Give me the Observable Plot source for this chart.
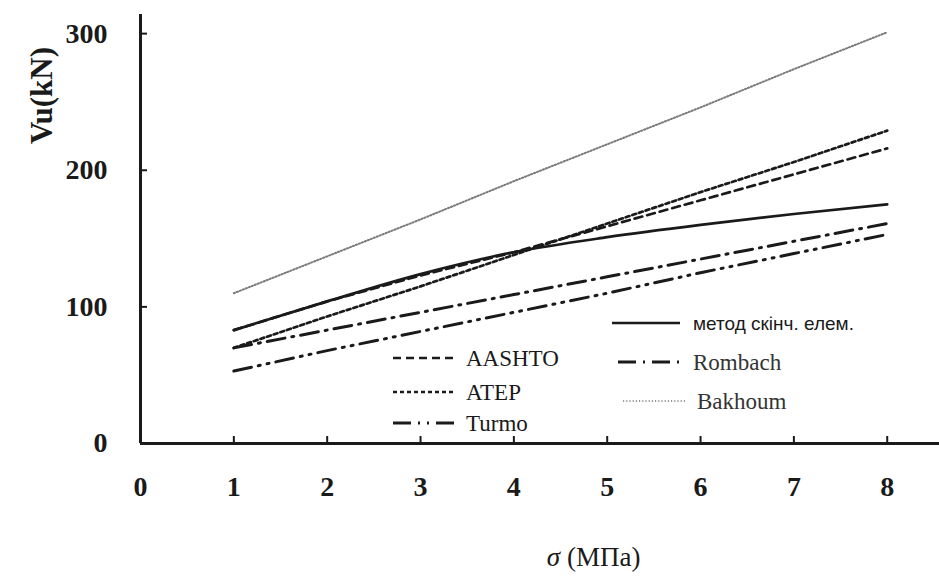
<!DOCTYPE html>
<html>
<head>
<meta charset="utf-8">
<script src="https://cdn.jsdelivr.net/npm/d3@7"></script>
<script src="https://cdn.jsdelivr.net/npm/@observablehq/plot@0.6"></script>
<style>
  html, body { margin: 0; padding: 0; background: #fff; }
  #chart svg { display: block; }
</style>
</head>
<body>
<div id="chart"></div>
<script>
// ---- data ----
const sigma = [1, 2, 3, 4, 5, 6, 7, 8];
const feMethod = [83, 104, 124, 140, 151, 160, 168, 175];
const aashto = [83, 104, 123, 140, 159, 178, 197, 216];
const atep = [70, 93, 115, 138, 161, 184, 206, 229];
const turmo = [53, 68, 82, 96, 110, 125, 139, 153];
const rombach = [70, 83, 96, 109, 122, 135, 148, 161];
const bakhoum = [110, 137, 164, 192, 219, 246, 274, 301];

const seriesNames = ["метод скінч. елем.", "AASHTO", "ATEP", "Turmo", "Rombach", "Bakhoum"];
const seriesValues = [feMethod, aashto, atep, turmo, rombach, bakhoum];

const xTicks = [0, 1, 2, 3, 4, 5, 6, 7, 8];
const yTicks = [0, 100, 200, 300];
const xTitleSymbol = "σ";
const xTitleUnit = "(МПа)";
const yTitle = "Vu(kN)";

// ---- styles ----
const styles = {
  "метод скінч. елем.": {stroke: "#1a1a1a", width: 2.7, dash: null},
  "AASHTO": {stroke: "#1a1a1a", width: 2.7, dash: "8,5"},
  "ATEP": {stroke: "#1a1a1a", width: 2.7, dash: "4,3"},
  "Turmo": {stroke: "#1a1a1a", width: 3, dash: "18,7,2,7,2,7"},
  "Rombach": {stroke: "#1a1a1a", width: 3, dash: "18,7,2,7"},
  "Bakhoum": {stroke: "#7a7a7a", width: 2, dash: "1.2,2"}
};

const rows = [];
seriesNames.forEach((name, k) => {
  sigma.forEach((s, i) => rows.push({series: name, x: s, y: seriesValues[k][i]}));
});

const serif = "'Liberation Serif', 'Times New Roman', serif";

const marks = [];
seriesNames.forEach(name => {
  const st = styles[name];
  marks.push(Plot.line(rows.filter(d => d.series === name), {
    x: "x", y: "y",
    stroke: st.stroke, strokeWidth: st.width,
    strokeDasharray: st.dash, curve: name === "метод скінч. елем." ? "monotone-x" : "linear"
  }));
});

const chart = Plot.plot({
  width: 939,
  height: 583,
  marginLeft: 140,
  marginRight: 0,
  marginTop: 14,
  marginBottom: 140,
  x: {domain: [0, 8.56]},
  y: {domain: [0, 314]},
  style: {fontFamily: serif, background: "#fff", color: "#1a1a1a"},
  marks: [
    ...marks,
    Plot.ruleY([0], {stroke: "#1a1a1a", strokeWidth: 3}),
    Plot.ruleX([0], {stroke: "#1a1a1a", strokeWidth: 3}),
    Plot.ruleX(xTicks.filter(d => d > 0), {x: d => d, y1: 0, y2: 0, insetBottom: 7, stroke: "#1a1a1a", strokeWidth: 2}),
    Plot.ruleY(yTicks.filter(d => d > 0), {y: d => d, x1: 0, x2: 0, insetRight: -7, stroke: "#1a1a1a", strokeWidth: 2}),
    Plot.axisX({ticks: xTicks, tickSize: 0, tickPadding: 33, fontSize: 28, fontWeight: "bold", label: null, tickFormat: d => String(d)}),
    Plot.axisY({ticks: yTicks, tickSize: 0, tickPadding: 33, fontSize: 28, fontWeight: "bold", label: null, tickFormat: d => String(d)}),
    Plot.text([yTitle], {text: d => d, frameAnchor: "top-left", rotate: -90, dx: -111, dy: 81,
      textAnchor: "middle", fontSize: 31, fontWeight: "bold", fill: "#1a1a1a"}),
    Plot.text([xTitleSymbol], {text: d => d, frameAnchor: "bottom", dx: 20, dy: 122, textAnchor: "end",
      fontSize: 27, fontStyle: "italic", fill: "#1a1a1a"}),
    Plot.text([xTitleUnit], {text: d => d, frameAnchor: "bottom", dx: 27, dy: 122, textAnchor: "start",
      fontSize: 27, fill: "#1a1a1a"})
  ]
});

document.getElementById("chart").appendChild(chart);

// ---- legend (inside plot area) ----
const svg = d3.select(chart);
const legendItems = [
  {name: "AASHTO", x1: 393, x2: 455, tx: 466, y: 358, font: serif, size: 23, color: "#1a1a1a"},
  {name: "ATEP", x1: 393, x2: 455, tx: 466, y: 392, font: serif, size: 23, color: "#1a1a1a"},
  {name: "Turmo", x1: 393, x2: 455, tx: 466, y: 423, font: serif, size: 23, color: "#1a1a1a"},
  {name: "метод скінч. елем.", x1: 612, x2: 680, tx: 693, y: 323, font: "'Liberation Sans', Arial, sans-serif", size: 19, color: "#1a1a1a"},
  {name: "Rombach", x1: 618, x2: 680, tx: 693, y: 362, font: serif, size: 23, color: "#333"},
  {name: "Bakhoum", x1: 623, x2: 687, tx: 697, y: 401, font: serif, size: 23, color: "#333"}
];
const lg = svg.append("g").attr("class", "legend");
legendItems.forEach(it => {
  const st = styles[it.name];
  lg.append("line")
    .attr("x1", it.x1).attr("x2", it.x2).attr("y1", it.y).attr("y2", it.y)
    .attr("stroke", st.stroke).attr("stroke-width", it.name === "Bakhoum" ? 1.6 : st.width)
    .attr("stroke-dasharray", st.dash);
  lg.append("text")
    .attr("x", it.tx).attr("y", it.y).attr("dy", "0.35em")
    .attr("text-anchor", "start")
    .attr("font-family", it.font).attr("font-size", it.size)
    .attr("fill", it.color)
    .text(it.name);
});
</script>
</body>
</html>
